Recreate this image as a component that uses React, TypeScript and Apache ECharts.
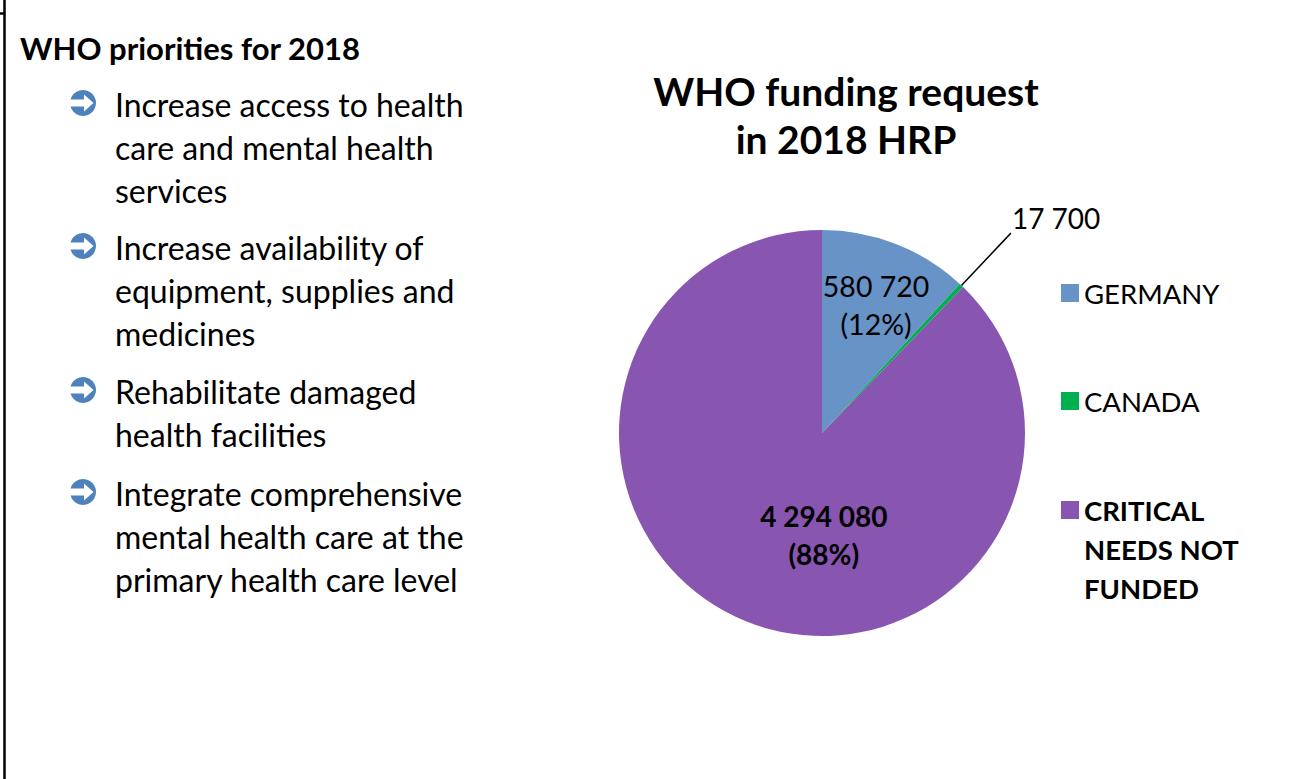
import React, { useEffect, useRef } from 'react';
import * as echarts from 'echarts';

const categories = ['GERMANY', 'CANADA', 'CRITICAL NEEDS NOT FUNDED'];
const values = [580720, 17700, 4294080];
const legendLabels = ['GERMANY', 'CANADA', '\n\nCRITICAL\nNEEDS NOT\nFUNDED'];
const colors = ['#6793C7', '#00B050', '#8855B0'];
const chartTitle = 'WHO funding request\nin 2018 HRP';
const sideTitle = 'WHO priorities for 2018';
const priorities = [
  'Increase access to health\ncare and mental health\nservices',
  'Increase availability of\nequipment, supplies and\nmedicines',
  'Rehabilitate damaged\nhealth facilities',
  'Integrate comprehensive\nmental health care at the\nprimary health care level',
];

const FONT = 'Lato, "Open Sans", sans-serif';
const fmt = (v: number) => String(v).replace(/\B(?=(\d{3})+(?!\d))/g, ' ');

export default function App() {
  const ref = useRef<HTMLDivElement>(null);
  useEffect(() => {
    if (!ref.current) return;
    const chart = echarts.init(ref.current, undefined, { renderer: 'svg' });

    const lineCenters = [105, 248, 392, 494];
    const LH = 42.6;
    const graphics: any[] = [
      { type: 'line', shape: { x1: 4.5, y1: 0, x2: 4.5, y2: 779 }, style: { stroke: '#000', lineWidth: 2.5 } },
      { type: 'line', shape: { x1: 0, y1: 13.5, x2: 4, y2: 13.5 }, style: { stroke: '#000', lineWidth: 2.5 } },
      {
        type: 'text', x: 20, y: 48,
        style: { text: sideTitle, font: `bold 31px ${FONT}`, fill: '#000', verticalAlign: 'middle' },
      },
    ];
    priorities.forEach((p, i) => {
      const cy = lineCenters[i] - 2;
      const cx = 83;
      graphics.push({ type: 'circle', shape: { cx, cy, r: 13 }, style: { fill: '#4F81BD' } });
      graphics.push({
        type: 'polygon',
        shape: {
          points: [
            [cx - 18, cy - 3.5], [cx + 1, cy - 3.5], [cx + 1, cy - 8.5], [cx + 10.5, cy],
            [cx + 1, cy + 8.5], [cx + 1, cy + 3.5], [cx - 18, cy + 3.5],
          ],
        },
        style: { fill: '#fff' },
      });
      graphics.push({
        type: 'text', x: 115, y: lineCenters[i] - LH / 2,
        style: { text: p, font: `32px ${FONT}`, lineHeight: LH, fill: '#000', verticalAlign: 'top' },
      });
    });

    const legendTops = [268.5, 376.5, 407.5];
    const labelCfg: any[] = [
      { position: 'inside', fontSize: 28.5, lineHeight: 38, formatter: (p: any) => `${fmt(p.value)}\n(${p.percent}%)` },
      { position: 'outside', fontSize: 28, formatter: (p: any) => fmt(p.value) },
      { position: 'inside', fontSize: 28, fontWeight: 'bold', lineHeight: 38, formatter: (p: any) => `${fmt(p.value)}\n(${p.percent}%)` },
    ];
    const labelShift = [[16, -31], [-4, -15], [41, 5]];

    chart.setOption({
      animation: false,
      title: {
        text: chartTitle, left: 841, top: 62, textAlign: 'center',
        textStyle: { fontFamily: FONT, fontSize: 39, fontWeight: 'bold', lineHeight: 48, color: '#000' },
      },
      legend: categories.map((name, i) => ({
        data: [name], orient: 'vertical', left: 1056, top: legendTops[i],
        itemWidth: 18, itemHeight: 18, icon: 'rect', selectedMode: false,
        formatter: () => legendLabels[i],
        textStyle: {
          fontFamily: FONT, fontSize: 27.5, color: '#000', lineHeight: 39,
          fontWeight: i === 2 ? 'bold' : 'normal',
        },
      })),
      graphic: graphics,
      series: [{
        type: 'pie',
        center: [822, 433],
        radius: 203,
        startAngle: 90,
        clockwise: true,
        percentPrecision: 0,
        avoidLabelOverlap: false,
        itemStyle: { borderWidth: 0 },
        emphasis: { disabled: true },
        labelLine: { length: 72, length2: 0, lineStyle: { color: '#000', width: 1.5 } },
        labelLayout: (params: any) => ({ dx: labelShift[params.dataIndex][0], dy: labelShift[params.dataIndex][1] }),
        data: categories.map((name, i) => ({
          name, value: values[i],
          itemStyle: { color: colors[i] },
          label: { show: true, color: '#000', fontFamily: FONT, ...labelCfg[i] },
          labelLine: { show: i === 1 },
        })),
      }],
    });
    return () => chart.dispose();
  }, []);
  return <div ref={ref} style={{ position: 'fixed', left: 0, top: 0, width: 1297, height: 779, background: '#fff' }} />;
}
